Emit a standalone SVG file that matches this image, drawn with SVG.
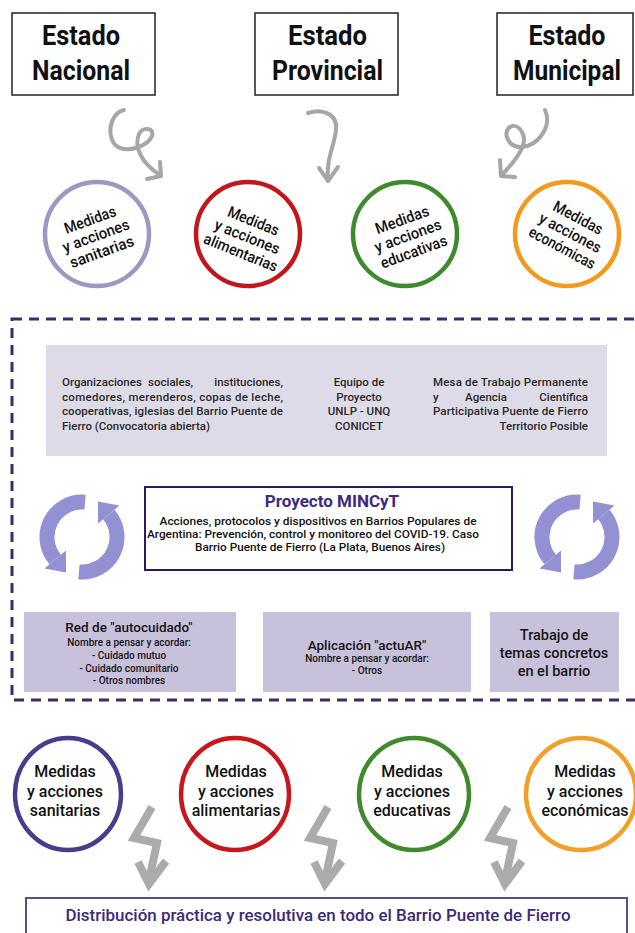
<svg xmlns="http://www.w3.org/2000/svg" width="635" height="933" viewBox="0 0 635 933">
<style>
  text { font-family: Roboto, "Liberation Sans", Arial, sans-serif; font-weight: 500; }
  .estado { font-size: 27px; font-weight: bold; fill: #111; text-anchor: middle; }
  .sbox { fill: #fff; stroke: #222; stroke-width: 1.5; }
  .curl { fill: none; stroke: #a6a6a6; stroke-width: 4; stroke-linecap: round; stroke-linejoin: round; }
  .ring { fill: #fff; stroke-width: 4.5; }
  .ct { font-size: 15.5px; fill: #111; text-anchor: middle; }
  .ct2 { font-size: 16px; fill: #111; text-anchor: middle; }
  .gt { font-size: 11.5px; fill: #2a2a2a; }
  .mid { text-anchor: middle; }
  .end { text-anchor: end; }
  .dash { fill: none; stroke: #3b2a6e; stroke-width: 3; stroke-dasharray: 10 7; }
  .pbox { fill: #fff; stroke: #2b1a5c; stroke-width: 2; }
  .ptitle { font-size: 17px; font-weight: bold; fill: #3d2a80; text-anchor: middle; }
  .psub { font-size: 11px; fill: #111; text-anchor: middle; }
  .lbox { fill: #c8c1dc; }
  .bt1 { font-size: 13.5px; fill: #151515; text-anchor: middle; }
  .bt2 { font-size: 10px; fill: #151515; text-anchor: middle; }
  .bt3 { font-size: 14.5px; fill: #151515; text-anchor: middle; }
  .zig { fill: none; stroke: #ababab; stroke-width: 8; stroke-linejoin: miter; stroke-linecap: butt; }
  .cyc { fill: none; stroke: #9390d3; stroke-width: 15; }
  .cyh { fill: #9390d3; }
  .fbox { fill: #fff; stroke: #5a4d8c; stroke-width: 2; }
  .ft { font-size: 16.5px; fill: #3a2a78; text-anchor: middle; }
</style>
<defs>
  <g id="halfcyc">
    <path class="cyc" d="M 3.05,-34.87 A 35 35 0 0 0 -26.81,22.5"/>
    <polygon class="cyh" points="-16.1,13.5 -37.5,31.5 -15.9,35.5"/>
  </g>
  <g id="cycle">
    <use href="#halfcyc"/>
    <use href="#halfcyc" transform="rotate(180)"/>
  </g>
  <g id="zigzag">
    <polyline class="zig" points="0,807 -18,838 5,843 -3,880"/>
    <polyline class="zig" points="-14,862 -3,884 14,861"/>
  </g>
</defs>

<rect width="635" height="933" fill="#fff"/>

<!-- Estado boxes -->
<g id="estado-nacional">
  <rect class="sbox" x="12" y="13" width="143" height="82"/>
  <text class="estado" x="81" y="45" textLength="78" lengthAdjust="spacingAndGlyphs">Estado</text>
  <text class="estado" x="81" y="80" textLength="98" lengthAdjust="spacingAndGlyphs">Nacional</text>
</g>
<g id="estado-provincial">
  <rect class="sbox" x="255" y="13" width="143" height="82"/>
  <text class="estado" x="327.5" y="45" textLength="79" lengthAdjust="spacingAndGlyphs">Estado</text>
  <text class="estado" x="327.5" y="80" textLength="111" lengthAdjust="spacingAndGlyphs">Provincial</text>
</g>
<g id="estado-municipal">
  <rect class="sbox" x="497" y="13" width="136" height="82"/>
  <text class="estado" x="567" y="45" textLength="77" lengthAdjust="spacingAndGlyphs">Estado</text>
  <text class="estado" x="567" y="80" textLength="108" lengthAdjust="spacingAndGlyphs">Municipal</text>
</g>

<!-- Connectors -->
<g id="connectors">
  <path class="curl" d="M 124,110 C 108,114 106,140 118,147 C 128,153 148,146 152,136 C 155,128 143,126 139,134 C 134,146 140,162 160,175"/>
  <polyline class="curl" points="147,179 161,176 160,162"/>
  <path class="curl" d="M 308,113 C 322,108 338,114 336,130 C 334,148 326,158 328,180"/>
  <polyline class="curl" points="319,168 328,181 338,167"/>
  <path class="curl" d="M 545,110 C 552,125 540,145 522,147 C 508,148 502,132 510,127 C 518,122 528,135 522,148 C 518,158 510,166 502,175"/>
  <polyline class="curl" points="500,160 501,176 515,177"/>
  <use href="#zigzag" transform="translate(152,0)"/>
  <use href="#zigzag" transform="translate(328,0)"/>
  <use href="#zigzag" transform="translate(508,0)"/>
</g>

<!-- Row 1 circles -->
<g id="circ-sanitarias">
  <circle class="ring" cx="97" cy="234" r="52" stroke="#9d97c3"/>
  <g transform="translate(96,236) rotate(-20)">
    <text class="ct" x="0" y="-12" textLength="54" lengthAdjust="spacingAndGlyphs">Medidas</text>
    <text class="ct" x="0" y="5" textLength="70" lengthAdjust="spacingAndGlyphs">y acciones</text>
    <text class="ct" x="0" y="22" textLength="67" lengthAdjust="spacingAndGlyphs">sanitarias</text>
  </g>
</g>
<g id="circ-alimentarias">
  <circle class="ring" cx="248" cy="234" r="52" stroke="#c0171d"/>
  <g transform="translate(247,237) rotate(22)">
    <text class="ct" x="0" y="-12" textLength="54" lengthAdjust="spacingAndGlyphs">Medidas</text>
    <text class="ct" x="0" y="5" textLength="69" lengthAdjust="spacingAndGlyphs">y acciones</text>
    <text class="ct" x="0" y="22" textLength="78" lengthAdjust="spacingAndGlyphs">alimentarias</text>
  </g>
</g>
<g id="circ-educativas">
  <circle class="ring" cx="405" cy="234" r="52" stroke="#3d8b2e"/>
  <g transform="translate(408,236) rotate(-20)">
    <text class="ct" x="0" y="-12" textLength="56" lengthAdjust="spacingAndGlyphs">Medidas</text>
    <text class="ct" x="0" y="5" textLength="70" lengthAdjust="spacingAndGlyphs">y acciones</text>
    <text class="ct" x="0" y="22" textLength="70" lengthAdjust="spacingAndGlyphs">educativas</text>
  </g>
</g>
<g id="circ-economicas">
  <circle class="ring" cx="567" cy="234" r="52" stroke="#f39a1e"/>
  <g transform="translate(570,233) rotate(28)">
    <text class="ct" x="0" y="-12" textLength="54" lengthAdjust="spacingAndGlyphs">Medidas</text>
    <text class="ct" x="0" y="5" textLength="68" lengthAdjust="spacingAndGlyphs">y acciones</text>
    <text class="ct" x="0" y="22" textLength="73" lengthAdjust="spacingAndGlyphs">económicas</text>
  </g>
</g>

<!-- Dashed frame -->
<rect class="dash" x="12" y="319" width="640" height="381"/>

<!-- Actors box -->
<g id="actores">
  <rect x="46" y="345" width="561" height="111" fill="#dcdbe7"/>
  <text class="gt" x="62" y="386">Organizaciones</text>
  <text class="gt" x="148" y="386">sociales,</text>
  <text class="gt end" x="283" y="386">instituciones,</text>
  <text class="gt" x="62" y="401" textLength="221" lengthAdjust="spacing">comedores, merenderos, copas de leche,</text>
  <text class="gt" x="62" y="415" textLength="221" lengthAdjust="spacing">cooperativas, iglesias del Barrio Puente de</text>
  <text class="gt" x="62" y="430">Fierro (Convocatoria abierta)</text>

  <text class="gt mid" x="359" y="386">Equipo de</text>
  <text class="gt mid" x="359" y="401">Proyecto</text>
  <text class="gt mid" x="359" y="415">UNLP - UNQ</text>
  <text class="gt mid" x="359" y="430">CONICET</text>

  <text class="gt" x="433" y="386" textLength="155" lengthAdjust="spacing">Mesa de Trabajo Permanente</text>
  <text class="gt" x="433" y="401">y</text>
  <text class="gt mid" x="486" y="401">Agencia</text>
  <text class="gt end" x="588" y="401">Científica</text>
  <text class="gt" x="433" y="415" textLength="155" lengthAdjust="spacing">Participativa Puente de Fierro</text>
  <text class="gt end" x="588" y="430">Territorio Posible</text>
</g>

<!-- Cycle icons -->
<g id="ciclo-izq" transform="translate(82,537)"><use href="#cycle"/></g>
<g id="ciclo-der" transform="translate(577,537)"><use href="#cycle"/></g>

<!-- Proyecto MINCyT -->
<g id="proyecto">
  <rect class="pbox" x="145" y="487" width="367" height="83"/>
  <text class="ptitle" x="332" y="507">Proyecto MINCyT</text>
  <text class="psub" x="318" y="525" textLength="317" lengthAdjust="spacingAndGlyphs">Acciones, protocolos y dispositivos en Barrios Populares de</text>
  <text class="psub" x="313" y="538" textLength="332" lengthAdjust="spacingAndGlyphs">Argentina: Prevención, control y monitoreo del COVID-19. Caso</text>
  <text class="psub" x="320" y="551" textLength="250" lengthAdjust="spacingAndGlyphs">Barrio Puente de Fierro (La Plata, Buenos Aires)</text>
</g>

<!-- Lower boxes -->
<g id="red-autocuidado">
  <rect class="lbox" x="24" y="612" width="212" height="80"/>
  <text class="bt1" x="129" y="632">Red de "autocuidado"</text>
  <text class="bt2" x="129" y="646">Nombre a pensar y acordar:</text>
  <text class="bt2" x="129" y="659">- Cuidado mutuo</text>
  <text class="bt2" x="129" y="672">- Cuidado comunitario</text>
  <text class="bt2" x="129" y="684">- Otros nombres</text>
</g>
<g id="app-actuar">
  <rect class="lbox" x="263" y="612" width="208" height="80"/>
  <text class="bt1" x="367" y="650">Aplicación "actuAR"</text>
  <text class="bt2" x="367" y="662">Nombre a pensar y acordar:</text>
  <text class="bt2" x="367" y="674">- Otros</text>
</g>
<g id="trabajo">
  <rect class="lbox" x="490" y="612" width="129" height="80"/>
  <text class="bt3" x="554" y="640">Trabajo de</text>
  <text class="bt3" x="554" y="658">temas concretos</text>
  <text class="bt3" x="554" y="676">en el barrio</text>
</g>

<!-- Row 2 circles -->
<g id="circ2-sanitarias">
  <ellipse class="ring" cx="68" cy="794" rx="53" ry="56" stroke="#4b3b8c"/>
  <text class="ct2" x="65" y="777">Medidas</text>
  <text class="ct2" x="65" y="797">y acciones</text>
  <text class="ct2" x="65" y="816">sanitarias</text>
</g>
<g id="circ2-alimentarias">
  <ellipse class="ring" cx="235" cy="794" rx="54" ry="56" stroke="#c8161d"/>
  <text class="ct2" x="236" y="777">Medidas</text>
  <text class="ct2" x="236" y="797">y acciones</text>
  <text class="ct2" x="236" y="816">alimentarias</text>
</g>
<g id="circ2-educativas">
  <ellipse class="ring" cx="414" cy="794" rx="55" ry="56" stroke="#3f8a2c"/>
  <text class="ct2" x="412" y="777">Medidas</text>
  <text class="ct2" x="412" y="797">y acciones</text>
  <text class="ct2" x="412" y="816">educativas</text>
</g>
<g id="circ2-economicas">
  <ellipse class="ring" cx="581" cy="794" rx="55" ry="56" stroke="#f3a02b"/>
  <text class="ct2" x="585" y="777">Medidas</text>
  <text class="ct2" x="585" y="797">y acciones</text>
  <text class="ct2" x="585" y="816">económicas</text>
</g>

<!-- Final box -->
<g id="distribucion">
  <rect class="fbox" x="26" y="898" width="601" height="45"/>
  <text class="ft" x="318" y="921" textLength="505" lengthAdjust="spacingAndGlyphs">Distribución práctica y resolutiva en todo el Barrio Puente de Fierro</text>
</g>
</svg>
